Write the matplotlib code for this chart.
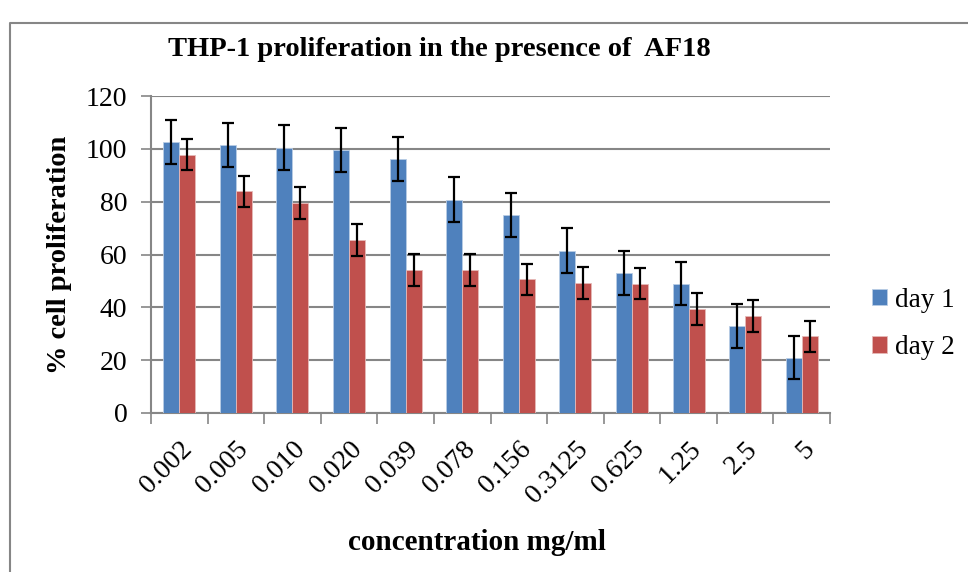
import numpy as np
import matplotlib
matplotlib.use("Agg")
import matplotlib.pyplot as plt
from matplotlib.lines import Line2D

# data
concentrations = ["0.002", "0.005", "0.010", "0.020", "0.039", "0.078",
                  "0.156", "0.3125", "0.625", "1.25", "2.5", "5"]
day1 = [102.7, 101.3, 100.5, 99.5, 96.2, 80.8, 74.8, 61.5, 53.0, 49.0, 32.8, 21.0]
day1_err = [8.3, 8.3, 8.4, 8.3, 8.3, 8.4, 8.3, 8.4, 8.3, 8.3, 8.3, 8.3]
day2 = [97.8, 83.9, 79.5, 65.6, 54.2, 54.1, 50.6, 49.2, 49.0, 39.5, 36.7, 29.0]
day2_err = [6.0, 6.0, 6.0, 6.0, 6.0, 6.0, 5.9, 6.0, 5.9, 6.0, 6.0, 6.0]
yticks = [0, 20, 40, 60, 80, 100, 120]

blue = "#4F81BD"
red = "#C0504D"
grey = "#868686"

plt.rcParams['font.family'] = ['Liberation Serif', 'DejaVu Serif']

fig = plt.figure(figsize=(9.68, 5.72), dpi=100)
ax = fig.add_axes([151 / 968, 1 - 413 / 572, (830 - 151) / 968, (413 - 96) / 572])

x = np.arange(len(concentrations))
w = 0.283
ax.bar(x - w / 2, day1, w, color=blue, edgecolor="#B9CDE5", linewidth=0.6, zorder=3, label="day 1")
ax.bar(x + w / 2, day2, w, color=red, edgecolor="#E6B9B8", linewidth=0.6, zorder=3, label="day 2")
ax.errorbar(x - w / 2, day1, yerr=day1_err, fmt="none", ecolor="black",
            elinewidth=1.6, capsize=4, capthick=1.6, zorder=4)
ax.errorbar(x + w / 2, day2, yerr=day2_err, fmt="none", ecolor="black",
            elinewidth=1.6, capsize=4, capthick=1.6, zorder=4)

ax.set_xlim(-0.5, len(concentrations) - 0.5)
ax.set_ylim(0, 120)
ax.set_yticks(yticks)
ax.tick_params(axis="y", labelsize=20, length=7, width=1.2, color=grey, direction="out", pad=10)
ax.yaxis.grid(True, color=grey, linewidth=1.5, zorder=0)

# category boundaries carry the tick marks, centres carry the labels
ax.set_xticks(np.arange(len(concentrations) + 1) - 0.5)
ax.set_xticklabels([])
ax.set_xticks(x, minor=True)
ax.set_xticklabels(concentrations, minor=True, rotation=45, ha="right",
                   rotation_mode="anchor", fontsize=20)
ax.tick_params(axis="x", which="major", length=8, width=1.2, color=grey, direction="out")
ax.tick_params(axis="x", which="minor", length=0, pad=17)

for s in ["top", "right"]:
    ax.spines[s].set_visible(False)
for s in ["left", "bottom"]:
    ax.spines[s].set_color(grey)
    ax.spines[s].set_linewidth(1.5)

fig.text(439 / 968, 1 - 50 / 572, "THP-1 proliferation in the presence of  AF18",
         ha="center", va="center", fontsize=20.5, fontweight="bold")
fig.text(59 / 968, 1 - 255 / 572, "% cell proliferation", rotation=90,
         ha="center", va="center", fontsize=20.5, fontweight="bold")
fig.text(477 / 968, 1 - 543 / 572, "concentration mg/ml",
         ha="center", va="center", fontsize=21, fontweight="bold")

ax.legend(loc="center left", bbox_to_anchor=(861 / 968, 1 - 324 / 572),
          bbox_transform=fig.transFigure, frameon=False, fontsize=19.5,
          borderaxespad=0, handlelength=0.55, handleheight=0.55,
          handletextpad=0.3, labelspacing=0.82)

# outer chart frame
fig.add_artist(Line2D([10 / 968, 10 / 968, 1.0], [0.0, 1 - 23 / 572, 1 - 23 / 572],
                      transform=fig.transFigure, color=grey, linewidth=1.5))

fig.savefig("out.png", dpi=100)
